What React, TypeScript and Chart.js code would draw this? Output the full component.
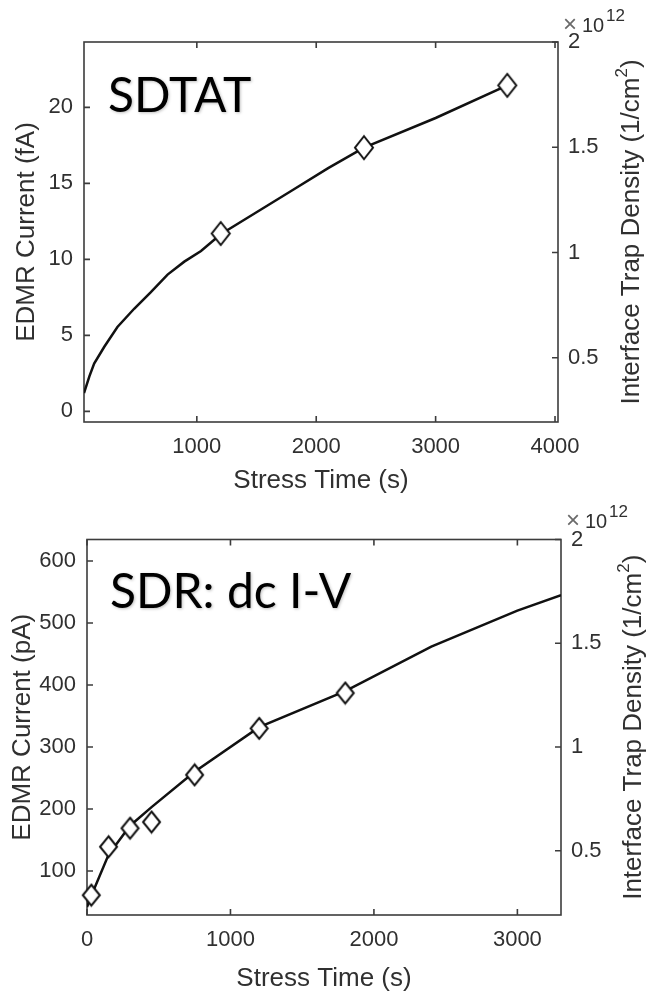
import React, { useEffect, useRef } from "react";
import { Chart, registerables } from "chart.js";

Chart.register(...registerables);

// ---------------- Data: SDTAT panel ----------------
const sdtatFitTime = [55, 100, 140, 225, 335, 475, 615, 755, 895, 1035, 1200, 1500, 1800, 2100, 2400, 3000, 3600];
const sdtatFitCurrent = [1.2, 2.3, 3.15, 4.25, 5.55, 6.75, 7.85, 9.0, 9.85, 10.55, 11.65, 13.1, 14.55, 16.0, 17.35, 19.3, 21.45];
const sdtatTime = [1200, 2400, 3600];
const sdtatCurrent = [11.7, 17.35, 21.45];
const sdtatXTicks = [1000, 2000, 3000, 4000];
const sdtatLeftTicks = [0, 5, 10, 15, 20];
const sdtatRightTicks = [0.5, 1, 1.5, 2];

// ---------------- Data: SDR dc I-V panel ----------------
const sdrFitTime = [0, 30, 150, 300, 450, 750, 1200, 1800, 2400, 3000, 3304];
const sdrFitCurrent = [42, 60, 126, 173, 203, 260, 332, 390, 462, 520, 545];
const sdrTime = [30, 150, 300, 450, 750, 1200, 1800];
const sdrCurrent = [61, 139, 169, 179, 255, 330, 387];
const sdrXTicks = [0, 1000, 2000, 3000];
const sdrLeftTicks = [100, 200, 300, 400, 500, 600];
const sdrRightTicks = [0.5, 1, 1.5, 2];

// ---------------- Styles ----------------
const AXIS_COLOR = "#3c3c3c";
const TEXT_COLOR = "#303030";
const SANS = "'Liberation Sans', Arial, sans-serif";
const TITLE_FONT = "Lato, 'Open Sans', sans-serif";
const W = 670;
const H = 498;

type Spec = {
  title: string;
  leftLabel: string;
  fitTime: number[];
  fitCurrent: number[];
  time: number[];
  current: number[];
  xTicks: number[];
  leftTicks: number[];
  rightTicks: number[];
  xMin: number;
  xMax: number;
  yMin: number;
  yMax: number;
  rMin: number;
  rMax: number;
  box: { left: number; right: number; top: number; bottom: number };
  leftTitlePad: number;
  titleX: number;
  titleBaseline: number;
  rightTitleX: number;
  expY: number;
  marker: { w: number; h: number };
};

const sdtatSpec: Spec = {
  title: "SDTAT",
  leftLabel: "EDMR Current (fA)",
  fitTime: sdtatFitTime,
  fitCurrent: sdtatFitCurrent,
  time: sdtatTime,
  current: sdtatCurrent,
  xTicks: sdtatXTicks,
  leftTicks: sdtatLeftTicks,
  rightTicks: sdtatRightTicks,
  xMin: 55,
  xMax: 4025,
  yMin: -0.7,
  yMax: 24.3,
  rMin: 0.195,
  rMax: 2,
  box: { left: 84, right: 558, top: 42, bottom: 422 },
  leftTitlePad: 11,
  titleX: 108,
  titleBaseline: 112,
  rightTitleX: 632,
  expY: 26,
  marker: { w: 18, h: 23 },
};

const sdrSpec: Spec = {
  title: "SDR: dc I-V",
  leftLabel: "EDMR Current (pA)",
  fitTime: sdrFitTime,
  fitCurrent: sdrFitCurrent,
  time: sdrTime,
  current: sdrCurrent,
  xTicks: sdrXTicks,
  leftTicks: sdrLeftTicks,
  rightTicks: sdrRightTicks,
  xMin: 0,
  xMax: 3304,
  yMin: 29,
  yMax: 634.7,
  rMin: 0.19,
  rMax: 2,
  box: { left: 87, right: 561, top: 41.5, bottom: 417 },
  leftTitlePad: 7,
  titleX: 110,
  titleBaseline: 110,
  rightTitleX: 634,
  expY: 24,
  marker: { w: 17, h: 21 },
};

function makeDiamond(w: number, h: number): HTMLCanvasElement {
  const c = document.createElement("canvas");
  const pad = 2;
  c.width = w + pad * 2;
  c.height = h + pad * 2;
  const g = c.getContext("2d") as CanvasRenderingContext2D;
  const cx = c.width / 2;
  const cy = c.height / 2;
  g.beginPath();
  g.moveTo(cx, cy - h / 2);
  g.lineTo(cx + w / 2, cy);
  g.lineTo(cx, cy + h / 2);
  g.lineTo(cx - w / 2, cy);
  g.closePath();
  g.fillStyle = "#fff";
  g.fill();
  g.lineWidth = 2;
  g.lineJoin = "miter";
  g.strokeStyle = "#111";
  g.stroke();
  return c;
}

function makePlugin(spec: Spec) {
  return {
    id: "matlabFrame",
    beforeDatasetsDraw(chart: any) {
      const { ctx, chartArea: a, scales } = chart;
      ctx.save();
      ctx.strokeStyle = AXIS_COLOR;
      ctx.lineWidth = 1.6;
      ctx.strokeRect(a.left, a.top, a.right - a.left, a.bottom - a.top);
      const tl = 6;
      ctx.beginPath();
      scales.x.ticks.forEach((t: any) => {
        const px = scales.x.getPixelForValue(t.value);
        ctx.moveTo(px, a.bottom);
        ctx.lineTo(px, a.bottom - tl);
        ctx.moveTo(px, a.top);
        ctx.lineTo(px, a.top + tl);
      });
      scales.y.ticks.forEach((t: any) => {
        const py = scales.y.getPixelForValue(t.value);
        ctx.moveTo(a.left, py);
        ctx.lineTo(a.left + tl, py);
      });
      scales.y2.ticks.forEach((t: any) => {
        const py = scales.y2.getPixelForValue(t.value);
        ctx.moveTo(a.right, py);
        ctx.lineTo(a.right - tl, py);
      });
      ctx.stroke();
      ctx.restore();
    },
    afterDraw(chart: any) {
      const { ctx, chartArea: a } = chart;
      ctx.save();
      // Panel title
      ctx.fillStyle = "#000";
      ctx.font = `48px ${TITLE_FONT}`;
      ctx.textAlign = "left";
      ctx.textBaseline = "alphabetic";
      ctx.shadowColor = "rgba(0,0,0,0.25)";
      ctx.shadowBlur = 3;
      ctx.shadowOffsetX = 1;
      ctx.shadowOffsetY = 1;
      ctx.fillText(spec.title, spec.titleX, spec.titleBaseline);
      ctx.shadowColor = "transparent";
      ctx.shadowBlur = 0;
      ctx.shadowOffsetX = 0;
      ctx.shadowOffsetY = 0;

      // Exponent label x10^12
      ctx.textBaseline = "middle";
      ctx.fillStyle = "#6a6a6a";
      ctx.font = `24px ${SANS}`;
      ctx.textAlign = "center";
      ctx.fillText("\u00d7", a.right + 12, spec.expY - 1);
      ctx.fillStyle = TEXT_COLOR;
      ctx.textAlign = "left";
      ctx.font = `20px ${SANS}`;
      ctx.fillText("10", a.right + 24, spec.expY);
      ctx.font = `17px ${SANS}`;
      ctx.fillText("12", a.right + 48, spec.expY - 10);

      // Right axis title (reads bottom to top)
      const cy = (a.top + a.bottom) / 2;
      ctx.translate(spec.rightTitleX, cy);
      ctx.rotate(-Math.PI / 2);
      const mainFont = `26px ${SANS}`;
      const supFont = `17px ${SANS}`;
      const p1 = "Interface Trap Density (1/cm";
      const p2 = "2";
      const p3 = ")";
      ctx.font = mainFont;
      const w1 = ctx.measureText(p1).width;
      const w3 = ctx.measureText(p3).width;
      ctx.font = supFont;
      const w2 = ctx.measureText(p2).width;
      const total = w1 + w2 + w3;
      let x0 = -total / 2;
      ctx.fillStyle = TEXT_COLOR;
      ctx.textAlign = "left";
      ctx.textBaseline = "middle";
      ctx.font = mainFont;
      ctx.fillText(p1, x0, 0);
      x0 += w1;
      ctx.font = supFont;
      ctx.fillText(p2, x0, -10);
      x0 += w2;
      ctx.font = mainFont;
      ctx.fillText(p3, x0, 0);
      ctx.restore();
    },
  };
}

function buildConfig(spec: Spec): any {
  const fitData = spec.fitTime.map((t, i) => ({ x: t, y: spec.fitCurrent[i] }));
  const markerData = spec.time.map((t, i) => ({ x: t, y: spec.current[i] }));
  const tickFont = { family: SANS, size: 22 };
  const labelFont = { family: SANS, size: 26 };
  const diamond = makeDiamond(spec.marker.w, spec.marker.h);
  return {
    type: "line",
    data: {
      datasets: [
        {
          label: "measured",
          data: markerData,
          showLine: false,
          pointStyle: diamond,
          pointRadius: 9,
          yAxisID: "y",
          clip: false,
        },
        {
          label: "fit",
          data: fitData,
          borderColor: "#111",
          borderWidth: 2.5,
          pointRadius: 0,
          tension: 0,
          fill: false,
          yAxisID: "y",
        },
      ],
    },
    options: {
      animation: false,
      responsive: false,
      devicePixelRatio: 1,
      layout: { padding: { top: spec.box.top, left: 0, right: 0, bottom: 0 } },
      plugins: { legend: { display: false }, tooltip: { enabled: false } },
      scales: {
        x: {
          type: "linear",
          position: "bottom",
          min: spec.xMin,
          max: spec.xMax,
          afterBuildTicks: (s: any) => {
            s.ticks = spec.xTicks.map((v) => ({ value: v }));
          },
          afterFit: (s: any) => {
            s.height = H - spec.box.bottom;
          },
          grid: { display: false, drawTicks: false },
          border: { display: false },
          ticks: {
            autoSkip: false,
            maxRotation: 0,
            padding: 12,
            color: TEXT_COLOR,
            font: tickFont,
            callback: (v: any) => String(v),
          },
          title: {
            display: true,
            text: "Stress Time (s)",
            color: TEXT_COLOR,
            font: labelFont,
            padding: { top: 0, bottom: 2 },
          },
        },
        y: {
          type: "linear",
          position: "left",
          min: spec.yMin,
          max: spec.yMax,
          afterBuildTicks: (s: any) => {
            s.ticks = spec.leftTicks.map((v) => ({ value: v }));
          },
          afterFit: (s: any) => {
            s.width = spec.box.left;
          },
          grid: { display: false, drawTicks: false },
          border: { display: false },
          ticks: {
            autoSkip: false,
            padding: 11,
            color: TEXT_COLOR,
            font: tickFont,
            callback: (v: any) => String(v),
          },
          title: {
            display: true,
            text: spec.leftLabel,
            color: TEXT_COLOR,
            font: labelFont,
            padding: { top: spec.leftTitlePad, bottom: 0 },
          },
        },
        y2: {
          type: "linear",
          position: "right",
          min: spec.rMin,
          max: spec.rMax,
          afterBuildTicks: (s: any) => {
            s.ticks = spec.rightTicks.map((v) => ({ value: v }));
          },
          afterFit: (s: any) => {
            s.width = W - spec.box.right;
          },
          grid: { display: false, drawTicks: false },
          border: { display: false },
          ticks: {
            autoSkip: false,
            padding: 10,
            color: TEXT_COLOR,
            font: tickFont,
            callback: (v: any) => String(v),
          },
        },
      },
    },
    plugins: [makePlugin(spec)],
  };
}

function PanelChart({ spec }: { spec: Spec }) {
  const ref = useRef<HTMLCanvasElement>(null);
  useEffect(() => {
    const chart = new Chart(ref.current as HTMLCanvasElement, buildConfig(spec));
    return () => chart.destroy();
  }, [spec]);
  return (
    <canvas
      ref={ref}
      width={W}
      height={H}
      style={{ display: "block", width: W, height: H }}
    />
  );
}

export default function App() {
  return (
    <div
      style={{
        position: "absolute",
        left: 0,
        top: 0,
        width: W,
        height: 996,
        background: "#fff",
      }}
    >
      <PanelChart spec={sdtatSpec} />
      <PanelChart spec={sdrSpec} />
    </div>
  );
}
